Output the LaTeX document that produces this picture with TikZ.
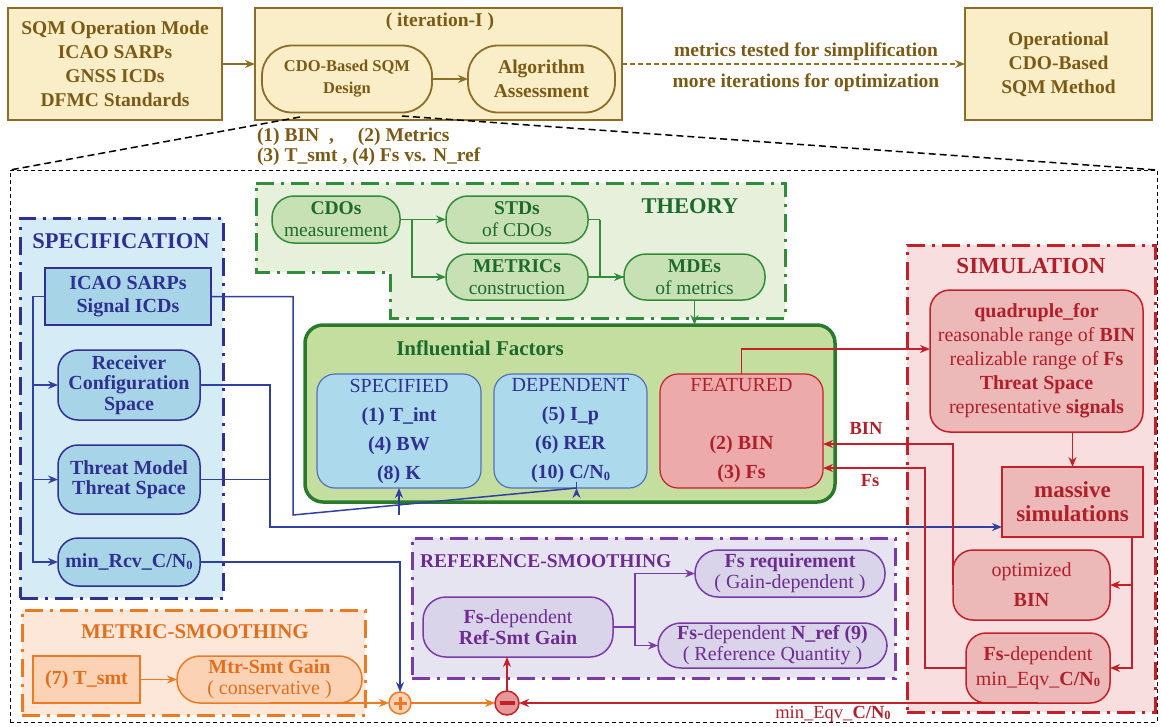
\documentclass[tikz,border=0pt]{standalone}
\usepackage{fontspec}
\setmainfont{Liberation Serif}
\usetikzlibrary{arrows.meta,calc}
\newcommand{\myfs}[2]{\fontsize{#1}{#2}\selectfont}
\newcommand{\CNz}{C/N\raisebox{-1.5pt}{\fontsize{12.5}{12.5}\selectfont 0}}
\definecolor{cbrn}{HTML}{7A5A14}
\definecolor{cyfill}{HTML}{FAEEC8}
\definecolor{cyline}{HTML}{8C6E28}
\definecolor{cnavy}{HTML}{2E3191}
\definecolor{cspecbg}{HTML}{D5EBF5}
\definecolor{cspecnode}{HTML}{A8D4E8}
\definecolor{cblue}{HTML}{3040A0}
\definecolor{cgline}{HTML}{328C3C}
\definecolor{cgtext}{HTML}{1D6B2C}
\definecolor{ctheobg}{HTML}{E6F0DA}
\definecolor{ctheonode}{HTML}{C8E1B4}
\definecolor{cinflbg}{HTML}{C4DEA0}
\definecolor{cinflline}{HTML}{2A7A2E}
\definecolor{csubblue}{HTML}{ACDAEC}
\definecolor{csubln}{HTML}{5570BB}
\definecolor{credln}{HTML}{C42029}
\definecolor{credtext}{HTML}{B0202A}
\definecolor{cfeat}{HTML}{ECAAAA}
\definecolor{csimbg}{HTML}{F8DEDE}
\definecolor{csimnode}{HTML}{ECB8B8}
\definecolor{cminus}{HTML}{E69898}
\definecolor{cpurln}{HTML}{7B3AA5}
\definecolor{cpurtext}{HTML}{6E2C91}
\definecolor{crefbg}{HTML}{E6E4F0}
\definecolor{crefnode}{HTML}{DAD4EA}
\definecolor{corln}{HTML}{EB7A22}
\definecolor{cortext}{HTML}{E26F1E}
\definecolor{cmetbg}{HTML}{FDE7D8}
\definecolor{cmetnode}{HTML}{FBD2B4}
\begin{document}
\begin{tikzpicture}[x=1pt,y=-1pt,>={Stealth[length=10pt,width=8pt]},
 every node/.style={inner sep=0pt,outer sep=0pt,align=center},
 sz/.style 2 args={minimum width=#1pt,minimum height=#2pt},
 ybox/.style={draw=cyline,fill=cyfill,line width=1.8pt,text=cbrn,font=\myfs{19.5}{24}\bfseries},
 yround/.style={ybox,rounded corners=30pt},
 ylink/.style={draw=cyline,line width=1.8pt},
 ytext/.style={text=cbrn,font=\myfs{19.5}{24}\bfseries},
 zoomline/.style={draw=black,line width=1.5pt,dash pattern=on 7pt off 4pt},
 pnl/.style={line width=3pt,dash pattern=on 18pt off 7pt on 3pt off 7pt},
 snode/.style={draw=cnavy,fill=cspecnode,line width=1.5pt,text=cnavy,font=\myfs{20}{20.5}\bfseries},
 sround/.style={snode,rounded corners=20pt},
 blink/.style={draw=cblue,line width=1.5pt},
 gnode/.style={draw=cgline,fill=ctheonode,line width=1.5pt,text=cgtext,rounded corners=22pt,font=\myfs{19.5}{22}},
 glink/.style={draw=cgline,line width=1.5pt},
 subb/.style={draw=csubln,fill=csubblue,line width=1.2pt,rounded corners=18pt,text=cnavy,font=\myfs{20}{29}},
 rnode/.style={draw=credln,fill=csimnode,line width=1.5pt,text=credtext,rounded corners=20pt,font=\myfs{20}{24}},
 rlink/.style={draw=credln,line width=1.5pt},
 pnode/.style={draw=cpurln,fill=crefnode,line width=1.5pt,text=cpurtext,rounded corners=23pt,font=\myfs{20}{21}},
 plink/.style={draw=cpurln,line width=1.5pt},
 onode/.style={draw=corln,fill=cmetnode,line width=1.5pt,text=cortext,font=\myfs{20}{21}},
 olink/.style={draw=corln,line width=1.5pt}
]
\useasboundingbox (0,0) rectangle (1161,726);

% ---------- top row ----------
\node[ybox,sz={214}{112}] (ops) at (115,64) {SQM Operation Mode\\ICAO SARPs\\GNSS ICDs\\DFMC Standards};
\node[ybox,sz={367}{112}] (iter) at (438.5,64) {};
\node[ytext] (itertitle) at (440,22) {( iteration-I )};
\node[yround,sz={170}{67},font=\myfs{16.5}{22}\bfseries] (design) at (347,79) {CDO-Based SQM\\Design};
\node[yround,sz={147}{67}] (algo) at (541.5,79) {Algorithm\\Assessment};
\node[ybox,sz={187}{112}] (oper) at (1058.5,64) {Operational\\CDO-Based\\SQM Method};
\draw[ylink,->] (ops.east) -- (iter.west);
\draw[ylink,->] (design) -- (algo);
\draw[ylink,->,dash pattern=on 5pt off 3pt] (iter.east) -- (oper.west);
\node[ytext] (lbl1) at (806,52) {metrics tested for simplification};
\node[ytext] (lbl2) at (806,83) {more iterations for optimization};
\node[ytext,font=\myfs{19.5}{19.5}\bfseries,anchor=west,align=left] (lbl3) at (257,147) {\makebox[101pt][l]{(1) BIN~~,}(2) Metrics\\(3) T\_smt~, (4) Fs vs. N\_ref};

% ---------- detail frame ----------
\node[draw=black,line width=1pt,dash pattern=on 4pt off 3pt,sz={1147}{552}] (detail) at (583.5,446) {};
\coordinate (zl) at (300,117);
\coordinate (zr) at (402,116);
\draw[zoomline] (zl) -- (detail.north west);
\draw[zoomline] (zr) -- (detail.north east);

% ---------- panels ----------
\node[pnl,draw=cnavy,fill=cspecbg,sz={203}{380}] (specpanel) at (121.5,408) {};
\draw[pnl,draw=cgline,fill=ctheobg] (256,183) -- (785,183) -- (785,318) -- (390,318) -- (390,272) -- (256,272) -- cycle;
\node[pnl,draw=credln,fill=csimbg,sz={248}{467}] (simpanel) at (1031,478.5) {};
\node[pnl,draw=cpurln,fill=crefbg,sz={483}{140}] (refpanel) at (653.5,608) {};
\node[pnl,draw=corln,fill=cmetbg,sz={343}{105}] (metpanel) at (193.5,662.5) {};

% ---------- specification ----------
\node[text=cnavy,font=\myfs{22.5}{26}\bfseries] (spectitle) at (121,241) {SPECIFICATION};
\node[snode,sz={166}{57},font=\myfs{20}{23}\bfseries] (icao) at (128,296.5) {ICAO SARPs\\Signal ICDs};
\node[sround,sz={142}{70}] (recv) at (129,385) {Receiver\\Configuration\\Space};
\node[sround,sz={142}{69}] (threat) at (129,479.5) {Threat Model\\Threat Space};
\node[sround,sz={142}{48}] (minrcv) at (129,562) {min\_Rcv\_\CNz};
\coordinate (trunk) at (33,296.5);
\draw[blink,->] (icao.west) -- (trunk) |- (recv.west);
\draw[blink,->] (trunk) |- (threat.west);
\draw[blink,->] (trunk) |- (minrcv.west);

% ---------- theory ----------
\node[text=cgtext,font=\myfs{22.5}{26}\bfseries] (theotitle) at (690,206) {THEORY};
\node[gnode,sz={128}{47}] (cdos) at (336,219.5) {\textbf{CDOs}\\measurement};
\node[gnode,sz={142}{47}] (stds) at (517,219.5) {\textbf{STDs}\\of CDOs};
\node[gnode,sz={142}{46}] (metrics) at (517,277) {\textbf{METRICs}\\construction};
\node[gnode,sz={141}{46}] (mdes) at (694.5,277) {\textbf{MDEs}\\of metrics};
\coordinate (g1) at (412,219.5);
\coordinate (g2) at (600,219.5);
\draw[glink,->] (cdos.east) -- (stds.west);
\draw[glink,->] (g1) |- (metrics.west);
\draw[glink] (stds.east) -- (g2);
\draw[glink,->] (g2) |- (mdes.west);
\draw[glink] (metrics.east) -- (mdes.west);

% ---------- influential factors ----------
\node[draw=cinflline,fill=cinflbg,line width=3.5pt,rounded corners=18pt,sz={530}{177}] (infl) at (570,413.5) {};
\draw[glink,->] (mdes.south) -- (mdes.south |- infl.north);
\node[text=cgtext,font=\myfs{21}{24}\bfseries] (infltitle) at (480,348) {Influential Factors};
\node[subb,sz={164}{114}] (specified) at (399,431) {SPECIFIED\\\textbf{(1) T\_int}\\\textbf{(4) BW}\\\textbf{(8) K}};
\node[subb,sz={153}{114}] (dependent) at (570.5,431) {DEPENDENT\\\textbf{(5) I\_p}\\\textbf{(6) RER}\\\textbf{(10) \CNz}};
\node[subb,draw=credln,fill=cfeat,text=credtext,sz={163}{114}] (featured) at (741.5,431) {FEATURED\\\mbox{}\\\textbf{(2) BIN}\\\textbf{(3) Fs}};

% ---------- simulation ----------
\node[text=credtext,font=\myfs{23}{26}\bfseries] (simtitle) at (1031,266) {SIMULATION};
\node[rnode,sz={213}{142}] (quad) at (1036.5,361) {\textbf{quadruple\_for}\\reasonable range of \textbf{BIN}\\realizable range of \textbf{Fs}\\\textbf{Threat Space}\\representative \textbf{signals}};
\node[rnode,rounded corners=0pt,sz={141}{70},font=\myfs{23}{24}\bfseries] (massive) at (1072.5,502) {massive\\simulations};
\node[rnode,sz={157}{70},font=\myfs{20}{30}] (optbin) at (1031.5,585) {optimized\\\textbf{BIN}};
\node[rnode,sz={144}{70},font=\myfs{20}{25}] (fsdep) at (1038,668) {\textbf{Fs}-dependent\\min\_Eqv\_\textbf{\CNz}};

% ---------- reference smoothing ----------
\node[anchor=west,text=cpurtext,font=\myfs{19.5}{22}\bfseries] (reftitle) at (420,561) {REFERENCE-SMOOTHING};
\node[pnode,sz={190}{60}] (refsmt) at (518,627) {\textbf{Fs}-dependent\\\textbf{Ref-Smt Gain}};
\node[pnode,sz={190}{47}] (fsreq) at (790,573.5) {\textbf{Fs requirement}\\( Gain-dependent )};
\node[pnode,sz={229}{45}] (nref) at (772.5,645.5) {\textbf{Fs}-dependent \textbf{N\_ref (9)}\\( Reference Quantity )};
\coordinate (psplit) at (635,627);
\draw[plink] (refsmt.east) -- (psplit);
\draw[plink,->] (psplit) |- (fsreq.west);
\draw[plink,->] (psplit) |- (nref.west);

% ---------- metric smoothing ----------
\node[text=cortext,font=\myfs{21}{24}\bfseries] (mettitle) at (195,632) {METRIC-SMOOTHING};
\node[onode,sz={107}{47},font=\myfs{20}{21}\bfseries] (tsmt) at (86.5,679.5) {(7) T\_smt};
\node[onode,rounded corners=23pt,sz={185}{47}] (mtr) at (269.5,679.5) {\textbf{Mtr-Smt Gain}\\( conservative )};
\draw[olink,->] (tsmt) -- (mtr);

% ---------- sum junctions ----------
\node[circle,draw=corln,fill=cmetnode,line width=1.5pt,minimum size=22pt] (plus) at (400,703) {};
\draw[corln,line width=3pt] ($(plus.center)+(-6.5,0)$) -- ($(plus.center)+(6.5,0)$);
\draw[corln,line width=3pt] ($(plus.center)+(0,-6.5)$) -- ($(plus.center)+(0,6.5)$);
\node[circle,draw=credln,fill=cminus,line width=1.5pt,minimum size=24pt] (minus) at (507,703) {};
\draw[credln,line width=3.5pt] ($(minus.center)+(-7.5,0)$) -- ($(minus.center)+(7.5,0)$);

% ---------- connectors ----------
\coordinate (bus1) at (293,515);
\draw[blink] (icao.east) -| (bus1) -- ($(dependent.south)+(6,0)$ |- bus1);
\draw[blink,->] (bus1 -| specified.south) -- (specified.south);
\draw[blink,->] ($(dependent.south)+(6,0)$ |- bus1) -- ($(dependent.south)+(6,0)$);
\coordinate (bus2) at (270,527);
\draw[blink,->] (recv.east) -| (bus2) -- (bus2 -| massive.west);
\draw[blink] (threat.east) -| (bus2);
\draw[blink,->] (minrcv.east) -| (plus.north);

\coordinate (qin) at (930,349);
\draw[rlink,->] (featured.north) |- (qin);
\draw[rlink,->] (massive.north |- quad.south) -- (massive.north);
\coordinate (mtrunk) at (1132,537);
\draw[rlink,->] (mtrunk) |- (optbin.east);
\draw[rlink,->] (mtrunk) |- (fsdep.east);
\draw[rlink,->] (optbin.west) |- ($(featured.east)+(0,13)$);
\node[text=credtext,font=\myfs{18.5}{20}\bfseries] (binlbl) at (866,428) {BIN};
\coordinate (fsturn) at (925,468);
\draw[rlink,->] (fsdep.west) -| (fsturn) -- (fsturn -| featured.east);
\node[text=credtext,font=\myfs{18.5}{20}\bfseries] (fslbl) at (870,481) {Fs};
\draw[rlink,->] (fsdep.south) -- (fsdep.south -| minus.east);
\node[text=credtext,font=\myfs{18.5}{20}] (eqvlbl) at (833,714) {min\_Eqv\_\textbf{\CNz}};
\draw[rlink,->] (minus.north) -- (minus.north |- refsmt.south);

\draw[olink,->] (mtr.south) -- (plus.west);
\draw[olink,->] (plus.east) -- (minus.west);
\end{tikzpicture}
\end{document}
